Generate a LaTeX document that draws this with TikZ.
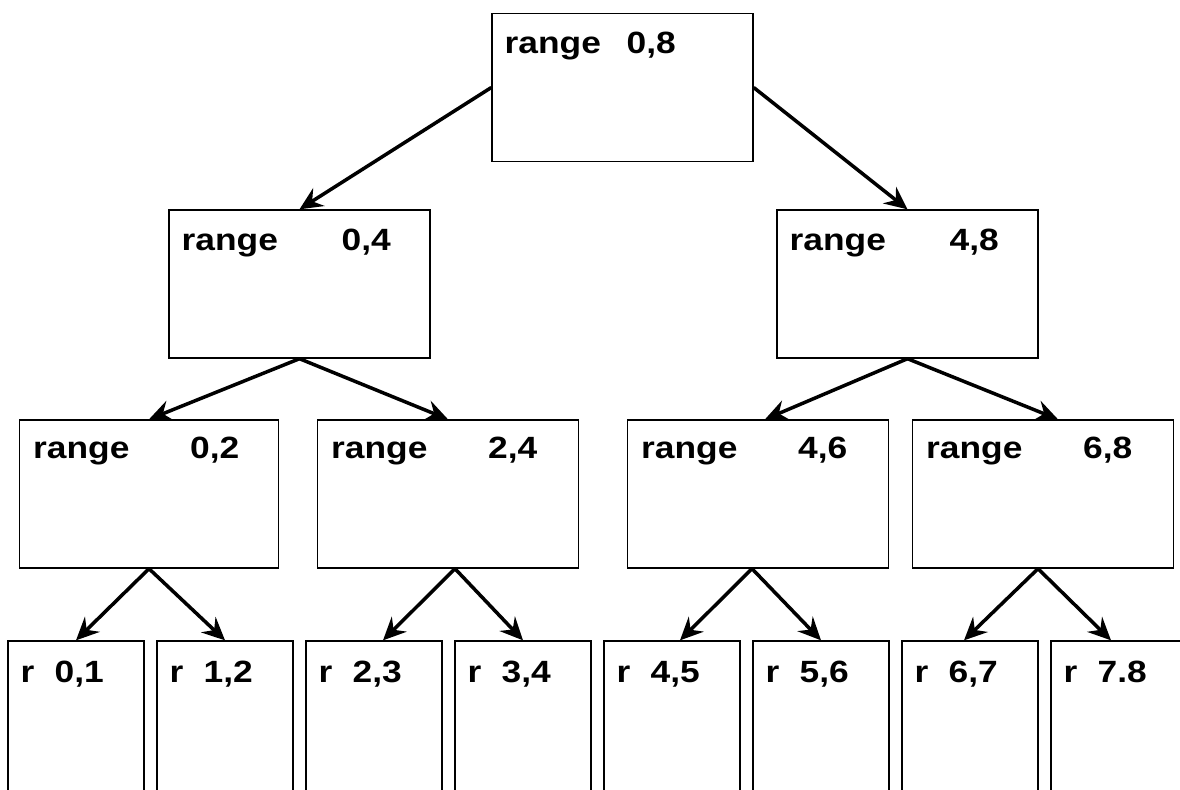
\documentclass[tikz,border=0pt]{standalone}
\usepackage{fontspec}
\newfontfamily\lblfont{Liberation Sans}[FakeStretch=1.15]
\usetikzlibrary{arrows.meta,calc}

\begin{document}
\begin{tikzpicture}[x=0.02cm,y=-0.02cm,
	box/.style={draw,line width=0.8pt,inner sep=0pt},
	big/.style={box,minimum width=5.22cm,minimum height=2.96cm},
	small/.style={box,minimum width=2.72cm,minimum height=4cm},
	lbl/.style={anchor=base west,inner sep=0pt,font=\lblfont\bfseries\fontsize{17.5}{20}\selectfont},
	link/.style={-{Stealth[length=13pt,width=12pt,inset=4.5pt]},line width=2pt}]
				\useasboundingbox (0,0) rectangle (1180,789);
				\clip (0,0) rectangle (1180,789);
				% ranges
				\node[big] (r08) at (622.5,87.5) {};
				\node[big] (r04) at (299.5,284) {};
				\node[big] (r48) at (907.5,284) {};
				\node[big,minimum width=5.18cm] (r02) at (149,494) {};
				\node[big] (r24) at (448,494) {};
				\node[big] (r46) at (758,494) {};
				\node[big] (r68) at (1043,494) {};
				% leaves
				\node[small] (r01) at (76,741) {};
				\node[small] (r12) at (225,741) {};
				\node[small] (r23) at (374,741) {};
				\node[small] (r34) at (523,741) {};
				\node[small] (r45) at (672,741) {};
				\node[small] (r56) at (821,741) {};
				\node[small] (r67) at (970,741) {};
				\node[small] (r78) at (1119,741) {};
				% texts
				\node[lbl] (t08) at ($(r08.north west)+(13,41)$) {\makebox[2.44cm][l]{range}0,8};
				\node[lbl] (t04) at ($(r04.north west)+(13,41)$) {\makebox[3.2cm][l]{range}0,4};
				\node[lbl] (t48) at ($(r48.north west)+(13,41)$) {\makebox[3.2cm][l]{range}4,8};
				\node[lbl] (t02) at ($(r02.north west)+(14,39)$) {\makebox[3.14cm][l]{range}0,2};
				\node[lbl] (t24) at ($(r24.north west)+(14,39)$) {\makebox[3.14cm][l]{range}2,4};
				\node[lbl] (t46) at ($(r46.north west)+(14,39)$) {\makebox[3.14cm][l]{range}4,6};
				\node[lbl] (t68) at ($(r68.north west)+(14,39)$) {\makebox[3.14cm][l]{range}6,8};
				\node[lbl] (t01) at ($(r01.north west)+(13,42)$) {\makebox[0.68cm][l]{r}0,1};
				\node[lbl] (t12) at ($(r12.north west)+(13,42)$) {\makebox[0.68cm][l]{r}1,2};
				\node[lbl] (t23) at ($(r23.north west)+(13,42)$) {\makebox[0.68cm][l]{r}2,3};
				\node[lbl] (t34) at ($(r34.north west)+(13,42)$) {\makebox[0.68cm][l]{r}3,4};
				\node[lbl] (t45) at ($(r45.north west)+(13,42)$) {\makebox[0.68cm][l]{r}4,5};
				\node[lbl] (t56) at ($(r56.north west)+(13,42)$) {\makebox[0.68cm][l]{r}5,6};
				\node[lbl] (t67) at ($(r67.north west)+(13,42)$) {\makebox[0.68cm][l]{r}6,7};
				\node[lbl] (t78) at ($(r78.north west)+(13,42)$) {\makebox[0.68cm][l]{r}7.8};
				% arrows
				\draw[link] (r08.west) to (r04.north);
				\draw[link] (r08.east) to (r48.north);
				\draw[link] (r04.south) to (r02.north);
				\draw[link] (r04.south) to (r24.north);
				\draw[link] (r48.south) to ([xshift=0.14cm]r46.north);
				\draw[link] (r48.south) to ([xshift=0.3cm]r68.north);
				\draw[link] (r02.south) to (r01.north);
				\draw[link] (r02.south) to (r12.north);
				\draw[link] ([xshift=0.14cm]r24.south) to ([xshift=0.18cm]r23.north);
				\draw[link] ([xshift=0.14cm]r24.south) to (r34.north);
				\draw[link] ([xshift=-0.12cm]r46.south) to ([xshift=0.16cm]r45.north);
				\draw[link] ([xshift=-0.12cm]r46.south) to (r56.north);
				\draw[link] ([xshift=-0.1cm]r68.south) to ([xshift=-0.12cm]r67.north);
				\draw[link] ([xshift=-0.1cm]r68.south) to ([xshift=-0.16cm]r78.north);
			\end{tikzpicture}
\end{document}
